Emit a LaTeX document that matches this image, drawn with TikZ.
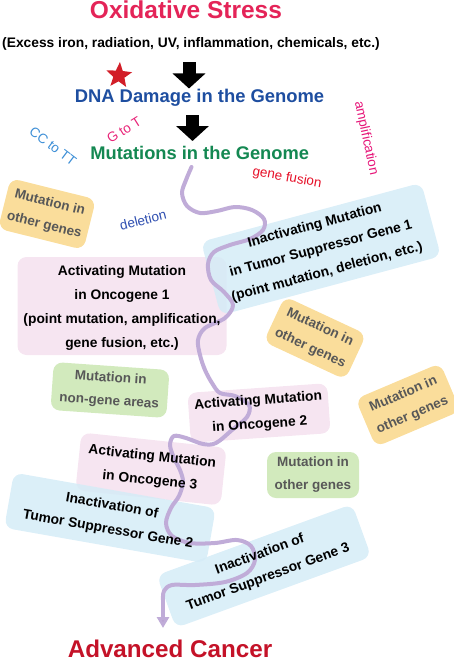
\documentclass[tikz,border=0pt]{standalone}
\usepackage{fontspec}
\setmainfont{Liberation Sans}
\usetikzlibrary{shapes.geometric, arrows.meta}
\pgfdeclarelayer{bg}
\pgfdeclarelayer{mid}
\pgfsetlayers{bg,mid,main}

\definecolor{oxred}{RGB}{228,36,88}
\definecolor{dnablue}{RGB}{30,78,160}
\definecolor{mutgreen}{RGB}{20,136,82}
\definecolor{cancerred}{RGB}{196,18,40}
\definecolor{cclblue}{RGB}{60,142,214}
\definecolor{gtpink}{RGB}{232,36,120}
\definecolor{ampmag}{RGB}{230,20,120}
\definecolor{fusred}{RGB}{230,16,40}
\definecolor{delblue}{RGB}{46,78,176}
\definecolor{starred}{RGB}{210,30,40}
\definecolor{cardorange}{RGB}{249,215,138}
\definecolor{cardblue}{RGB}{213,236,247}
\definecolor{cardpink}{RGB}{244,224,238}
\definecolor{cardgreen}{RGB}{202,230,178}
\definecolor{wave}{RGB}{192,172,216}
\definecolor{wavetip}{RGB}{186,162,210}
\definecolor{softtext}{RGB}{88,88,88}

\tikzset{
  card/.style={rounded corners=9pt, inner sep=0pt, fill opacity=0.85, draw=none},
  bigtxt/.style={font=\fontsize{13.8}{24}\selectfont\bfseries, align=center, inner sep=0pt},
  softtxt/.style={font=\fontsize{13.5}{23}\selectfont\bfseries, align=center, text=softtext, inner sep=0pt},
  tag/.style={font=\fontsize{13.5}{16}\selectfont, inner sep=0pt},
  blockarrow/.style={draw=black, line width=13pt, -{Triangle[width=32pt,length=15pt]}},
  wavy/.style={draw=wave, line width=4pt, line cap=round, line join=round},
}

\begin{document}
\begin{tikzpicture}[x=1pt, y=-1pt]
\useasboundingbox (0,0) rectangle (454,661);

% titles
\node[font=\fontsize{24.5}{28}\selectfont\bfseries, text=oxred, anchor=base, inner sep=0pt] (ox) at (186,18.5) {Oxidative Stress};
\node[font=\fontsize{13.8}{16}\selectfont\bfseries, anchor=base, inner sep=0pt] (oxsub) at (191,47.5) {(Excess iron, radiation, UV, inflammation, chemicals, etc.)};
\node[font=\fontsize{18.4}{22}\selectfont\bfseries, text=dnablue, anchor=base, inner sep=0pt] (dna) at (199.5,102.5) {DNA Damage in the Genome};
\node[font=\fontsize{18.3}{22}\selectfont\bfseries, text=mutgreen, anchor=base, inner sep=0pt] (mut) at (199.7,159) {Mutations in the Genome};
\node[font=\fontsize{24.2}{28}\selectfont\bfseries, text=cancerred, anchor=base, inner sep=0pt] (cancer) at (170,657.5) {Advanced Cancer};

% star
\node[star, star points=5, star point ratio=2.3, minimum size=27pt, inner sep=0pt, fill=starred, rotate=-4] (star) at (119,75.5) {};

% block arrows
\coordinate (a1s) at (189,62.5);
\coordinate (a1e) at (189,88.5);
\coordinate (a2s) at (192.5,115);
\coordinate (a2e) at (192.5,141);
\draw[blockarrow] (a1s) -- (a1e);
\draw[blockarrow] (a2s) -- (a2e);

% tags
\node[tag, text=cclblue, rotate=-37] (cctt) at (53,146) {CC to TT};
\node[tag, text=gtpink, rotate=32] (gtt) at (124,130) {G to T};
\node[tag, text=ampmag, rotate=-78] (amp) at (366,138) {amplification};
\node[tag, text=fusred, rotate=-10] (fus) at (287,178) {gene fusion};
\node[tag, text=delblue, rotate=14] (del) at (143,220) {deletion};

% cards
\begin{pgfonlayer}{bg}
\node[card, fill=cardorange, minimum width=88pt, minimum height=52pt, rotate=-14] (og1box) at (47,214) {};
\node[card, fill=cardpink, minimum width=209pt, minimum height=98pt] (onc1box) at (122,306) {};
\node[card, fill=cardblue, minimum width=228pt, minimum height=76pt, rotate=15] (tsg1box) at (321,249) {};
\node[card, fill=cardorange, minimum width=90pt, minimum height=50pt, rotate=-25] (og2box) at (315,338) {};
\node[card, fill=cardgreen, minimum width=116pt, minimum height=48pt, rotate=-4] (ngbox) at (110,390) {};
\node[card, fill=cardpink, minimum width=140pt, minimum height=50pt, rotate=4] (onc2box) at (259,413) {};
\node[card, fill=cardorange, minimum width=92pt, minimum height=52pt, rotate=23] (og3box) at (408,405) {};
\node[card, fill=cardpink, minimum width=146pt, minimum height=58pt, rotate=-6] (onc3box) at (151,469) {};
\node[card, fill=cardgreen, minimum width=92pt, minimum height=46pt] (og4box) at (313,475) {};
\node[card, fill=cardblue, minimum width=205pt, minimum height=56pt, rotate=-10] (tsg2box) at (110,518) {};
\node[card, fill=cardblue, minimum width=208pt, minimum height=56pt, rotate=20] (tsg3box) at (264,566) {};
\end{pgfonlayer}

% card texts
\node[softtxt, rotate=-14] (og1) at (og1box) {Mutation in\\other genes};
\node[bigtxt] (onc1) at ([yshift=-2pt]onc1box.center) {Activating Mutation\\in Oncogene 1\\(point mutation, amplification,\\gene fusion, etc.)};
\node[bigtxt, rotate=15] (tsg1) at (tsg1box) {Inactivating Mutation\\in Tumor Suppressor Gene 1\\(point mutation, deletion, etc.)};
\node[softtxt, rotate=-25] (og2) at (og2box) {Mutation in\\other genes};
\node[softtxt, rotate=-4] (ng) at (ngbox) {Mutation in\\non-gene areas};
\node[bigtxt, rotate=4] (onc2) at (onc2box) {Activating Mutation\\in Oncogene 2};
\node[softtxt, rotate=23] (og3) at (og3box) {Mutation in\\other genes};
\node[bigtxt, rotate=-6] (onc3) at (onc3box) {Activating Mutation\\in Oncogene 3};
\node[softtxt] (og4) at (og4box) {Mutation in\\other genes};
\node[bigtxt, rotate=-10] (tsg2) at (tsg2box) {Inactivation of\\Tumor Suppressor Gene 2};
\node[bigtxt, rotate=20] (tsg3) at (tsg3box) {Inactivation of\\Tumor Suppressor Gene 3};

% wavy path
\coordinate (wstart) at (191.5,167);
\coordinate (wbend) at (163,600);
\coordinate (wend) at (163,628);
\begin{pgfonlayer}{mid}
\draw[wavy] plot[smooth, tension=0.55] coordinates {(wstart) (186,180) (182,193) (187,206) (200,213) (217,211) (235,207) (252,210) (264,219) (263,230) (250,239) (230,245) (214,252) (208,264) (211,280) (224,292) (233,305) (225,318) (205,328) (198,340) (200,355) (205,370) (212,383) (220,393) (235,396) (249,405) (247,417) (232,430) (216,443) (203,444) (186,438) (174,436) (170,445) (174,458) (180,470) (183,482) (179,496) (171,508) (166,523) (172,536) (190,543) (215,543) (237,540) (251,546) (255,560) (247,573) (225,582) (195,585) (172,585) (164,591) (wbend)};
\draw[wavy, line cap=butt, -{Triangle[width=12pt,length=11pt,fill=wavetip]}] (wbend) -- (wend);
\end{pgfonlayer}
\end{tikzpicture}
\end{document}
